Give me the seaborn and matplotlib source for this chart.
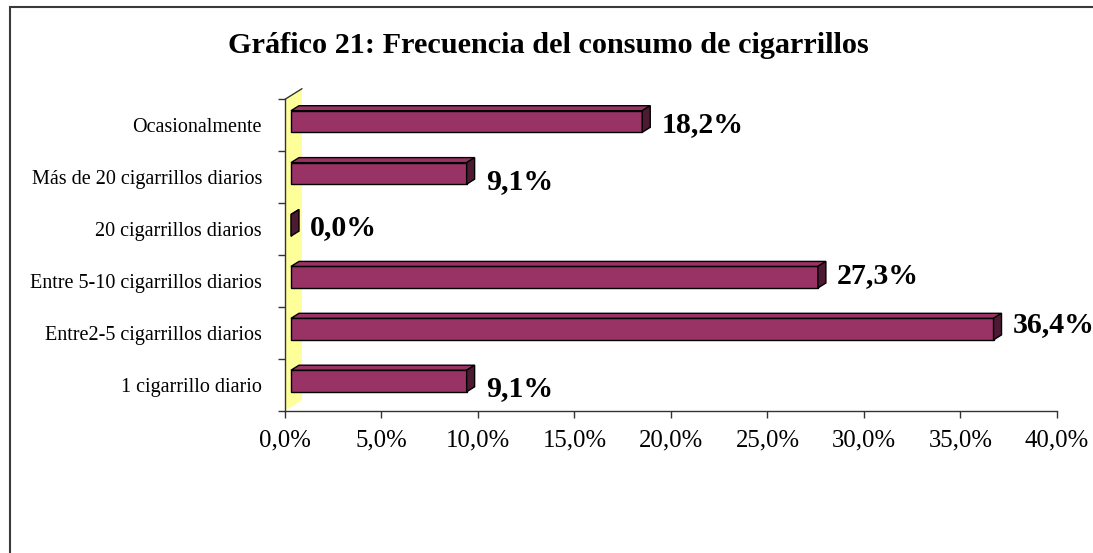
import pandas as pd
import matplotlib
matplotlib.use("Agg")
import matplotlib.pyplot as plt
import matplotlib.transforms as mtransforms
from matplotlib.patches import Polygon, Rectangle
import seaborn as sns

# Datos del gráfico (de arriba hacia abajo)
categorias = [
    "Ocasionalmente",
    "Más de 20 cigarrillos diarios",
    "20 cigarrillos diarios",
    "Entre 5-10 cigarrillos diarios",
    "Entre2-5 cigarrillos diarios",
    "1 cigarrillo diario",
]
porcentajes = [18.2, 9.1, 0.0, 27.3, 36.4, 9.1]
etiquetas = ["18,2%", "9,1%", "0,0%", "27,3%", "36,4%", "9,1%"]
x_ticks = [0, 5, 10, 15, 20, 25, 30, 35, 40]
titulo = "Gráfico 21: Frecuencia del consumo de cigarrillos"

# Estilo
BAR_FRONT = "#993366"
BAR_TOP = "#993366"
BAR_SIDE = "#4c1a33"
WALL = "#ffff99"
AXIS_COLOR = "#333333"
DEPTH_Y = 0.625          # px hacia arriba por px de profundidad
FRONT, BACK, WALL_DEPTH = 6, 14, 17
HALF = 0.208
# ajuste manual de las etiquetas (px hacia abajo), como en el original
label_nudge_px = [0, 6, 0, -4, -7.5, 5]

sns.set_theme(style="white")
plt.rcParams["font.family"] = ["Liberation Serif", "DejaVu Serif"]

df = pd.DataFrame({"Categoria": categorias, "Porcentaje": porcentajes})

fig = plt.figure(figsize=(10.93, 5.53), dpi=100)
ax = fig.add_axes([0.26075, 0.25732, 0.70631, 0.56311])
ax.set_facecolor("none")

sns.barplot(data=df, x="Porcentaje", y="Categoria", order=categorias, orient="h",
            color=BAR_FRONT, saturation=1, width=2 * HALF, edgecolor="black",
            linewidth=1, errorbar=None, ax=ax, zorder=3)
ax.set_xlim(0, 40)
ax.set_ylim(5.5, -0.5)

# escala px por unidad de datos
p0 = ax.transData.transform((0, 0))
sx = ax.transData.transform((1, 0))[0] - p0[0]
sy = ax.transData.transform((0, 1))[1] - p0[1]


def shift(x, y, depth):
    return (x + depth / sx, y + depth * DEPTH_Y / sy)


# pared lateral amarilla
wall = Polygon([shift(0, 5.5, 0), shift(0, 5.5, WALL_DEPTH),
                shift(0, -0.5, WALL_DEPTH), shift(0, -0.5, 0)],
               closed=True, fc=WALL, ec="none", zorder=1, clip_on=False)
ax.add_patch(wall)
tx, ty = zip(shift(0, -0.5, 0), shift(0, -0.5, WALL_DEPTH))
ax.plot(tx, ty, color=AXIS_COLOR, lw=1, clip_on=False, zorder=2)

# caras frontales desplazadas + caras superior y lateral
for p in list(ax.patches):
    if p is wall:
        continue
    nx, ny = shift(p.get_x(), p.get_y(), FRONT)
    p.set_x(nx)
    p.set_y(ny)

for i, v in enumerate(porcentajes):
    top = Polygon([shift(0, i - HALF, FRONT), shift(v, i - HALF, FRONT),
                   shift(v, i - HALF, BACK), shift(0, i - HALF, BACK)],
                  closed=True, fc=BAR_TOP, ec="black", lw=1, zorder=3)
    side = Polygon([shift(v, i - HALF, FRONT), shift(v, i + HALF, FRONT),
                    shift(v, i + HALF, BACK), shift(v, i - HALF, BACK)],
                   closed=True, fc=BAR_SIDE, ec="black", lw=1, zorder=3)
    ax.add_patch(top)
    ax.add_patch(side)

    off = mtransforms.offset_copy(ax.transData, fig=fig, x=25,
                                  y=FRONT * DEPTH_Y - label_nudge_px[i] - 10.1,
                                  units="dots")
    ax.text(v, i, etiquetas[i], transform=off, ha="left", va="baseline",
            fontsize=21.5, fontweight="bold", color="black", clip_on=False)

# ejes
sns.despine(ax=ax, top=True, right=True)
for s in ("left", "bottom"):
    ax.spines[s].set_color(AXIS_COLOR)
    ax.spines[s].set_linewidth(1)
    ax.spines[s].set_zorder(4)

ax.set_yticks([k - 0.5 for k in range(7)])
ax.set_yticklabels([])
ax.set_yticks(range(len(categorias)), minor=True)
ax.set_yticklabels(categorias, minor=True)
ax.tick_params(axis="y", which="major", left=True, length=5, width=1,
               direction="out", color=AXIS_COLOR)
ax.tick_params(axis="y", which="minor", left=True, length=0, pad=16.5,
               labelsize=14.5, labelcolor="black")

ax.set_xticks(x_ticks)
ax.xaxis.set_major_formatter(plt.FuncFormatter(lambda v, pos: f"{v:.1f}%".replace(".", ",")))
ax.tick_params(axis="x", bottom=True, length=5, width=1, direction="out",
               color=AXIS_COLOR, pad=8.5, labelsize=17.8, labelcolor="black")
ax.set_xlabel("")
ax.set_ylabel("")
ax.grid(False)

# título y marco
fig.text(548 / 1093, 1 - 53 / 553, titulo, ha="center", va="baseline",
         fontsize=21.8, fontweight="bold", color="black")
fig.add_artist(Rectangle((10 / 1093, -0.2), 1.5, 1.2 - 7 / 553,
                         transform=fig.transFigure, fill=False,
                         ec="#3a3a3a", lw=1.5))

fig.savefig("out.png", dpi=100, facecolor="white")
plt.close(fig)
